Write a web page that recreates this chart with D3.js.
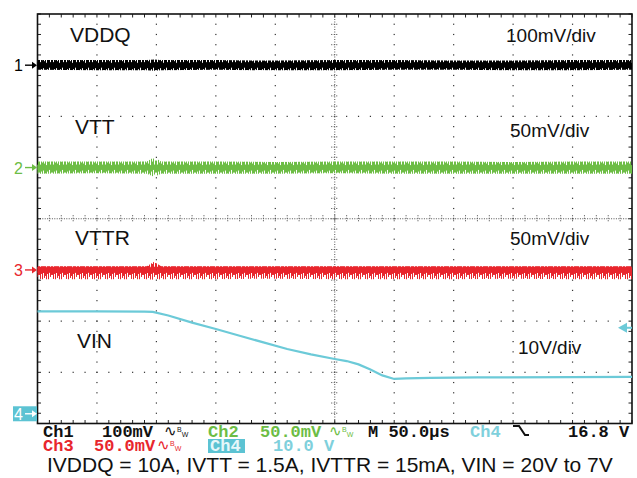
<!DOCTYPE html>
<html>
<head>
<meta charset="utf-8">
<script src="https://cdn.jsdelivr.net/npm/d3@7"></script>
<style>
  body { margin: 0; background: #fff; }
  svg text { font-family: "Liberation Sans", Arial, Helvetica, sans-serif; }
  svg text.mono { font-family: "Liberation Mono", "Courier New", monospace; font-weight: bold; }
</style>
</head>
<body>
<div id="scope"></div>
<script>
// time base: 50us/div, 10 div across, trigger in the middle
let sampleTimes = [-250, -200, -158, -152, -146, -100, -50, 0, 50, 100, 150, 200, 250]

// Ch1 VDDQ, noise envelope in mV (100mV/div)
let ch1Hi = [10, 10, 10, 11, 10, 10, 9, 10, 10, 9, 9, 10, 10]
let ch1Lo = [-9, -10, -10, -11, -10, -9, -10, -10, -9, -9, -10, -10, -9]
// Ch2 VTT, mV (50mV/div)
let ch2Hi = [6, 6, 6, 10, 6, 6, 5.5, 6, 6, 6, 5.5, 6, 6]
let ch2Lo = [-6, -5.5, -6, -9, -6, -6, -6, -5.5, -6, -6, -6, -6, -6]
// Ch3 VTTR, mV (50mV/div)
let ch3Hi = [3.5, 3.5, 3.5, 8, 3.5, 3.5, 3.5, 3.5, 3.5, 3.5, 3.5, 3.5, 3.5]
let ch3Lo = [-9, -9, -9, -9.5, -9, -9, -8.5, -9, -9, -9, -8.5, -9, -9]
// solid core of each noisy trace, mV  [ch1, ch2, ch3]
let coreHi = [5, 2.5, 3]
let coreLo = [-5, -2.5, -3]

// Ch4 VIN, volts (10V/div)
let vinTimes = [-250, -200, -160, -153, -140, -120, -100, -80, -60, -40, -20, 0, 10, 20, 30, 40, 50, 60, 80, 120, 250]
let vinVolts = [20.0, 20.0, 19.95, 19.9, 19.2, 17.8, 16.55, 15.25, 13.95, 12.65, 11.6, 10.7, 10.3, 9.65, 8.65, 7.5, 6.8, 6.9, 7.0, 7.1, 7.2]
let triggerVolts = 16.8

let channelNames = ["VDDQ", "VTT", "VTTR", "VIN"]
let channelScales = ["100mV/div", "50mV/div", "50mV/div", "10V/div"]
let channelOffsets = [3, 1, -1, -3.81]   // ground marker positions, div
let channelColors = ["#000000", "#6dbd45", "#e8262d", "#6ccad8"]

let caption = "IVDDQ = 10A, IVTT = 1.5A, IVTTR = 15mA, VIN = 20V to 7V"

let W = 637, H = 478
let plot = { left: 37.5, right: 632, top: 14, bottom: 423.5 }

let svg = d3.select("#scope")
    .append("svg")
    .attr("width", W)
    .attr("height", H)

let x = d3.scaleLinear().domain([-250, 250]).range([plot.left, plot.right])
let y = d3.scaleLinear().domain([-4, 4]).range([plot.bottom, plot.top])

let defs = svg.append("defs")

// ---------- graticule ----------
let grid = svg.append("g")
let minorT = d3.range(-250, 250.1, 10)
let minorD = d3.range(-4, 4.01, 0.2)

// dotted division lines
d3.range(-200, 201, 50).filter(t => t != 0).forEach(function (t) {
    grid.selectAll(null)
        .data(minorD.slice(1, -1))
        .enter()
        .append("rect")
        .attr("x", x(t) - 0.6)
        .attr("y", d => y(d) - 0.6)
        .attr("width", 1.2)
        .attr("height", 1.2)
        .attr("fill", "#333")
})
d3.range(-3, 4, 1).filter(d => d != 0).forEach(function (dv) {
    grid.selectAll(null)
        .data(minorT.slice(1, -1))
        .enter()
        .append("rect")
        .attr("x", t => x(t) - 0.6)
        .attr("y", y(dv) - 0.6)
        .attr("width", 1.2)
        .attr("height", 1.2)
        .attr("fill", "#333")
})

// centre cross with minor ticks
grid.selectAll(null)
    .data(minorD.slice(1, -1))
    .enter()
    .append("line")
    .attr("x1", x(0) - 3.5).attr("x2", x(0) + 3.5)
    .attr("y1", d => y(d)).attr("y2", d => y(d))
    .attr("stroke", "#444").attr("stroke-width", 1).attr("stroke-dasharray", "1,1.5")
grid.selectAll(null)
    .data(minorT.slice(1, -1))
    .enter()
    .append("line")
    .attr("y1", y(0) - 3.5).attr("y2", y(0) + 3.5)
    .attr("x1", t => x(t)).attr("x2", t => x(t))
    .attr("stroke", "#444").attr("stroke-width", 1).attr("stroke-dasharray", "1,1.5")
grid.selectAll(null)
    .data(d3.range(y(4), y(-4), 2.5))
    .enter()
    .append("rect")
    .attr("x", x(0) - 0.5).attr("y", d => d).attr("width", 1).attr("height", 1).attr("fill", "#555")
grid.selectAll(null)
    .data(d3.range(x(-250), x(250), 2.4))
    .enter()
    .append("rect")
    .attr("x", d => d).attr("y", y(0) - 0.5).attr("width", 1).attr("height", 1).attr("fill", "#555")

// border ticks
grid.selectAll(null).data(minorT).enter().append("line")
    .attr("x1", t => x(t)).attr("x2", t => x(t))
    .attr("y1", plot.top).attr("y2", plot.top + 3.5)
    .attr("stroke", "#222")
grid.selectAll(null).data(minorT).enter().append("line")
    .attr("x1", t => x(t)).attr("x2", t => x(t))
    .attr("y1", plot.bottom).attr("y2", plot.bottom - 3.5)
    .attr("stroke", "#222")
grid.selectAll(null).data(minorD).enter().append("line")
    .attr("y1", d => y(d)).attr("y2", d => y(d))
    .attr("x1", plot.left).attr("x2", plot.left + 3.5)
    .attr("stroke", "#222")
grid.selectAll(null).data(minorD).enter().append("line")
    .attr("y1", d => y(d)).attr("y2", d => y(d))
    .attr("x1", plot.right).attr("x2", plot.right - 3.5)
    .attr("stroke", "#222")

grid.append("rect")
    .attr("x", plot.left)
    .attr("y", plot.top)
    .attr("width", plot.right - plot.left)
    .attr("height", plot.bottom - plot.top)
    .attr("fill", "none")
    .attr("stroke", "#111")
    .attr("stroke-width", 1.6)

// ---------- labels inside the screen ----------
let nameX = [70, 75, 75, 77]
let nameY = [42, 134, 245, 348]
let scaleX = [506, 510, 510, 518]
let scaleY = [42, 137, 245, 354]

channelNames.forEach(function (n, i) {
    svg.append("text")
        .attr("x", nameX[i]).attr("y", nameY[i])
        .attr("font-size", 21)
        .attr("fill", "#111")
        .text(n)
    svg.append("text")
        .attr("x", scaleX[i]).attr("y", scaleY[i])
        .attr("font-size", 19)
        .attr("fill", "#111")
        .text(channelScales[i])
})

// ---------- noisy traces ----------
// vertical stripe texture so the envelope looks like a sampled noisy trace
let stripeUp = [7, 3, 10, 5, 12, 4, 8, 2, 11, 6, 9, 3, 7]
let stripeDn = [5, 9, 4, 11, 3, 8, 6, 12, 4, 10, 2, 7, 5]

function makePattern(id, color, cy) {
    let p = defs.append("pattern")
        .attr("id", id)
        .attr("patternUnits", "userSpaceOnUse")
        .attr("x", 0).attr("y", cy - 20)
        .attr("width", stripeUp.length).attr("height", 40)
    stripeUp.forEach(function (u, i) {
        p.append("rect")
            .attr("x", i).attr("y", 20 - u)
            .attr("width", 1).attr("height", u + stripeDn[i])
            .attr("fill", color)
    })
}

let noisy = [
    { hi: ch1Hi, lo: ch1Lo, mvPerDiv: 100 },
    { hi: ch2Hi, lo: ch2Lo, mvPerDiv: 50 },
    { hi: ch3Hi, lo: ch3Lo, mvPerDiv: 50 }
]

noisy.forEach(function (ch, i) {
    let yc = mv => y(channelOffsets[i] + mv / ch.mvPerDiv)
    let pts = sampleTimes.map((t, k) => ({ t: t, hi: ch.hi[k], lo: ch.lo[k] }))
    makePattern("noise" + i, channelColors[i], yc(0))

    let outer = d3.area()
        .x(d => x(d.t))
        .y0(d => yc(d.lo))
        .y1(d => yc(d.hi))
    svg.append("path")
        .datum(pts)
        .attr("d", outer)
        .attr("fill", "url(#noise" + i + ")")

    let core = d3.area()
        .x(d => x(d.t))
        .y0(d => yc(coreLo[i]))
        .y1(d => yc(coreHi[i]))
    svg.append("path")
        .datum(pts)
        .attr("d", core)
        .attr("fill", channelColors[i])
        .attr("opacity", 0.85)
})

// ---------- VIN ----------
let y4 = v => y(channelOffsets[3] + v / 10)
let vin = vinTimes.map((t, k) => ({ t: t, v: vinVolts[k] }))
svg.append("path")
    .datum(vin)
    .attr("d", d3.line().x(d => x(d.t)).y(d => y4(d.v)))
    .attr("fill", "none")
    .attr("stroke", channelColors[3])
    .attr("stroke-width", 2.2)

// trigger level marker (right edge)
let ty = y4(triggerVolts)
svg.append("path")
    .attr("d", "M618," + ty + "L627," + (ty - 5) + "L627," + (ty + 5) + "Z")
    .attr("fill", channelColors[3])
svg.append("line")
    .attr("x1", 626).attr("x2", plot.right)
    .attr("y1", ty).attr("y2", ty)
    .attr("stroke", channelColors[3]).attr("stroke-width", 2)

// ---------- ground markers on the left ----------
channelOffsets.forEach(function (off, i) {
    let my = y(off)
    let col = channelColors[i]
    if (i == 3) {
        svg.append("rect")
            .attr("x", 13).attr("y", my - 7.5)
            .attr("width", 24).attr("height", 15)
            .attr("fill", "#5cc3d3")
        col = "#fff"
    }
    svg.append("text")
        .attr("x", 14).attr("y", my + 6)
        .attr("font-size", 16)
        .attr("fill", col)
        .text(i + 1)
    svg.append("line")
        .attr("x1", 25).attr("x2", 33)
        .attr("y1", my).attr("y2", my)
        .attr("stroke", col).attr("stroke-width", 1.4)
    svg.append("path")
        .attr("d", "M37," + my + "L32," + (my - 3.5) + "L32," + (my + 3.5) + "Z")
        .attr("fill", col)
})

// ---------- status readout ----------
let status = svg.append("g")

function readout(txt, px, py, col) {
    return status.append("text")
        .attr("class", "mono")
        .attr("x", px).attr("y", py)
        .attr("font-size", 17)
        .attr("fill", col)
        .text(txt)
}

function bwMark(px, py, col) {
    let g = status.append("text").attr("x", px).attr("y", py).attr("fill", col)
    g.append("tspan").attr("font-size", 15).text("\u223F")
    g.append("tspan").attr("font-size", 7).attr("dy", -4).text("B")
    g.append("tspan").attr("font-size", 7).attr("dy", 5).text("W")
}

let row1 = 437, row2 = 451
readout("Ch1", 43, row1, "#111")
readout("100mV", 102, row1, "#111")
bwMark(164, row1 - 1, "#111")
readout("Ch2", 208, row1, channelColors[1])
readout("50.0mV", 260, row1, channelColors[1])
bwMark(329, row1 - 1, channelColors[1])
readout("M 50.0\u00b5s", 368, row1, "#111")
readout("Ch4", 470, row1, "#7fd0dc")
status.append("path")
    .attr("d", "M513," + (row1 - 11) + "H519L525," + (row1 - 2) + "H529")
    .attr("fill", "none").attr("stroke", "#111").attr("stroke-width", 2)
readout("16.8 V", 568, row1, "#111")

readout("Ch3", 43, row2, channelColors[2])
readout("50.0mV", 94, row2, channelColors[2])
bwMark(157, row2 - 1, channelColors[2])
status.append("rect")
    .attr("x", 208).attr("y", row2 - 12)
    .attr("width", 37).attr("height", 14)
    .attr("fill", "#5cc3d3")
readout("Ch4", 210, row2, "#e6f7fa")
readout("10.0 V", 273, row2, "#7fd0dc")

svg.append("text")
    .attr("x", 47).attr("y", 472)
    .attr("font-size", 21)
    .attr("fill", "#111")
    .text(caption)
</script>
</body>
</html>
